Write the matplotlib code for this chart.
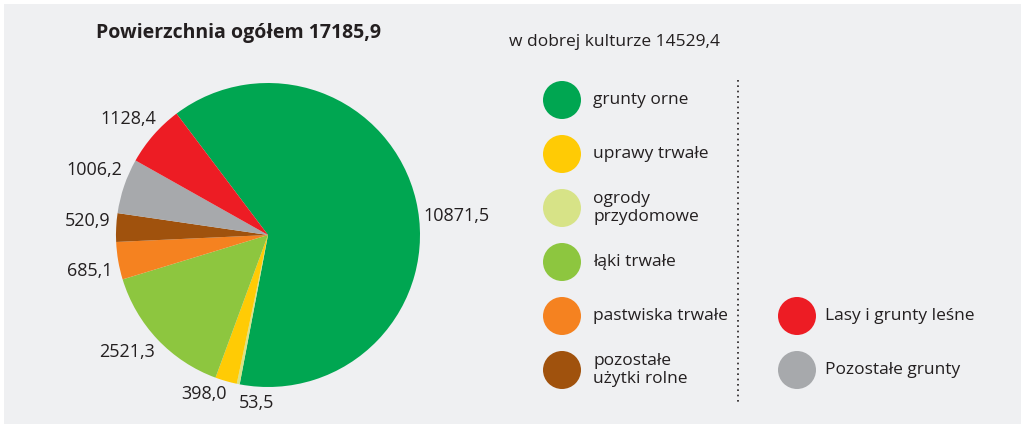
import numpy as np
import matplotlib
matplotlib.use("Agg")
import matplotlib.pyplot as plt
from matplotlib.patches import Circle, Rectangle

plt.rcParams['font.family'] = ['Open Sans', 'DejaVu Sans']

# Data
categories = ["grunty orne", "ogrody\nprzydomowe", "uprawy trwałe", "łąki trwałe",
              "pastwiska trwałe", "pozostałe\nużytki rolne", "Pozostałe grunty",
              "Lasy i grunty leśne"]
values = [10871.5, 53.5, 398.0, 2521.3, 685.1, 520.9, 1006.2, 1128.4]
value_labels = ["10871,5", "53,5", "398,0", "2521,3", "685,1", "520,9", "1006,2", "1128,4"]
colors = ["#00a651", "#d7e387", "#ffcb05", "#8dc63f", "#f58220", "#a0520d",
          "#a7a9ac", "#ed1c24"]
title = "Powierzchnia ogółem 17185,9"
subtitle = "w dobrej kulturze 14529,4"

# legend order (left column, right column)
legend_left = ["grunty orne", "uprawy trwałe", "ogrody\nprzydomowe", "łąki trwałe",
               "pastwiska trwałe", "pozostałe\nużytki rolne"]
legend_right = ["Lasy i grunty leśne", "Pozostałe grunty"]

# Layout (pixel coordinates, y measured from bottom)
W, H = 1021, 424
BG = "#eff0f2"
CENTER = (268, H - 235)
RADIUS = 152
START = 127
# label placement per wedge: (angle in deg, distance in radii, ha)
label_pos = [(7, 1.03, "left"), (266, 1.11, "center"), (248, 1.13, "center"),
             (226, 1.07, "right"), (193, 1.05, "right"), (175, 1.04, "right"),
             (156, 1.05, "right"), (134, 1.06, "right")]

fig = plt.figure(figsize=(W / 100, H / 100), dpi=100)
fig.patch.set_facecolor("white")
ax = fig.add_axes([0, 0, 1, 1])
ax.add_patch(Rectangle((4, 0), W - 4, H - 4, facecolor=BG, edgecolor="none", zorder=0))

wedges, _ = ax.pie(values, colors=colors, startangle=START, counterclock=False,
                   center=CENTER, radius=RADIUS, frame=True,
                   wedgeprops=dict(linewidth=0))

for lab, (ang, dist, ha) in zip(value_labels, label_pos):
    a = np.radians(ang)
    x = CENTER[0] + RADIUS * dist * np.cos(a)
    y = CENTER[1] + RADIUS * dist * np.sin(a)
    ax.text(x, y, lab, ha=ha, va="center", fontsize=13, color="#231f20")

ax.text(238, H - 33, title, ha="center", va="center", fontsize=14,
        fontweight="bold", color="#231f20")
ax.text(614, H - 42, subtitle, ha="center", va="center", fontsize=12.5,
        color="#231f20")

color_of = dict(zip(categories, colors))
row_y = [100, 154, 208, 262, 316, 370]
for name, ry in zip(legend_left, row_y):
    ax.add_patch(Circle((562, H - ry), 19, facecolor=color_of[name], edgecolor="none"))
    ax.text(593, H - ry, name, ha="left", va="center", fontsize=12.5,
            color="#231f20", linespacing=1.2)
for name, ry in zip(legend_right, row_y[4:]):
    ax.add_patch(Circle((797, H - ry), 19, facecolor=color_of[name], edgecolor="none"))
    ax.text(825, H - ry, name, ha="left", va="center", fontsize=12.5,
            color="#231f20")

ax.plot([738, 738], [H - 80, H - 403], linestyle=(0, (1, 2.2)), color="#231f20",
        linewidth=1.2)

ax.set_xlim(0, W)
ax.set_ylim(0, H)
ax.set_aspect("equal")
ax.axis("off")

fig.savefig("out.png", dpi=100, facecolor=fig.get_facecolor())
